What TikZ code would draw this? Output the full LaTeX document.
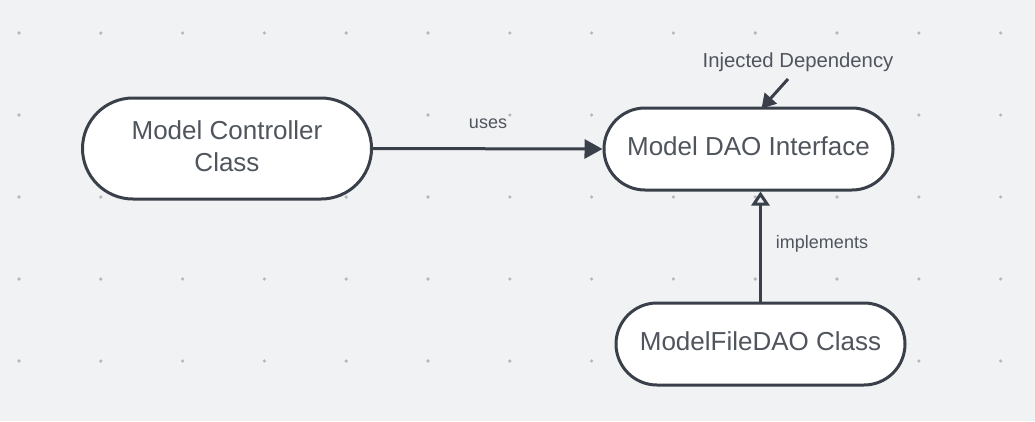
\documentclass[tikz,border=0pt]{standalone}
\usepackage{fontspec}
\setmainfont{Liberation Sans}
\usetikzlibrary{arrows.meta, shapes.misc, calc}

\definecolor{canvas}{HTML}{F1F2F4}
\definecolor{griddot}{HTML}{B4B8BE}
\definecolor{edge}{HTML}{394049}
\definecolor{ink}{HTML}{50555D}

\begin{document}
\begin{tikzpicture}[x=1pt, y=-1pt,
    pill/.style={rounded rectangle, draw=edge, line width=3pt, fill=white,
      text=ink, font=\fontsize{26}{32}\selectfont, align=center,
      minimum width=289pt, minimum height=82pt, inner sep=0pt},
    tag/.style={text=ink, font=\fontsize{18}{22}\selectfont, inner sep=0pt},
    link/.style={draw=edge, line width=3pt}]

  % Background with the dot grid
  \fill[canvas] (0,0) rectangle (1035,421);
  \useasboundingbox (0,0) rectangle (1035,421);
  \foreach \i in {0,...,12} {
    \foreach \j in {0,...,4} {
      \fill[griddot] (19+81.8*\i, 33+82*\j) circle (1.8pt);
    }
  }

  % The three classes
  \node[pill, minimum height=101pt] (ctrl) at (227,148.5) {Model Controller\\Class\vphantom{g}};
  \node[pill] (dao) at (748.5,149) {Model DAO Interface\vphantom{g}};
  \node[pill] (file) at (760.5,344) {ModelFileDAO Class\vphantom{g}};

  % Labels
  \node[tag] (uses) at (488,124) {uses};
  \node[tag] (impl) at (822,244) {implements};
  \node[tag, font=\fontsize{20.3}{24}\selectfont] (inj) at (798,62) {Injected Dependency};
  \coordinate (injstart) at (788,79);

  % Connectors
  \draw[link, -{Triangle[length=18pt, width=19pt]}] (ctrl.east) -- (dao.west);
  \draw[link, -{Triangle[open, length=14pt, width=18pt, fill=canvas]}]
    (file.north) -- (file.north |- dao.south);
  \draw[link, -{Triangle[length=14pt, width=16pt]}]
    (injstart) -- ([xshift=13pt, yshift=-2pt]dao.north);

\end{tikzpicture}
\end{document}
